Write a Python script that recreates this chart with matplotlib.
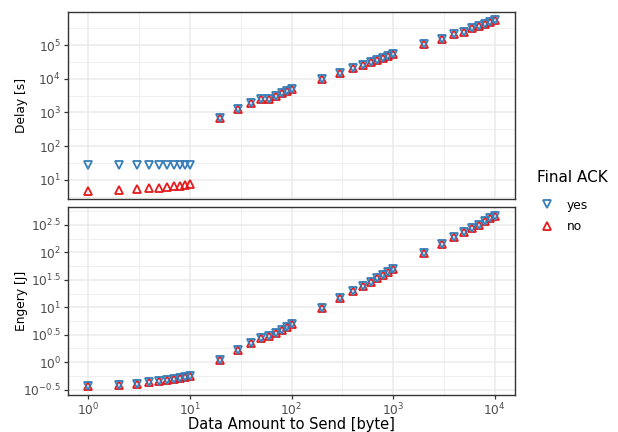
import numpy as np
import matplotlib
matplotlib.use("Agg")
import matplotlib.pyplot as plt
from matplotlib.lines import Line2D
from matplotlib.ticker import FixedLocator, FixedFormatter, NullFormatter

# ---------------- data ----------------
data_bytes = [1, 2, 3, 4, 5, 6, 7, 8, 9, 10,
              20, 30, 40, 50, 60, 70, 80, 90, 100,
              200, 300, 400, 500, 600, 700, 800, 900, 1000,
              2000, 3000, 4000, 5000, 6000, 7000, 8000, 9000, 10000]

delay_yes = [27, 27, 27, 27, 27, 27, 27, 27, 27, 27,
             665, 1310, 1880, 2510, 2560, 3160, 3790, 4440, 5100,
             10000, 15300, 20500, 25800, 30900, 37000, 42500, 48600, 54300,
             105000, 153000, 209000, 251000, 310000, 370000, 425000, 480000, 535000]

delay_no = [4.85, 5.1, 5.35, 5.6, 5.85, 6.1, 6.4, 6.7, 7.05, 7.45,
            665, 1310, 1880, 2510, 2560, 3160, 3790, 4440, 5100,
            10000, 15300, 20500, 25800, 30900, 37000, 42500, 48600, 54300,
            105000, 153000, 209000, 251000, 310000, 370000, 425000, 480000, 535000]

energy_yes = [0.361, 0.388, 0.405, 0.428, 0.447, 0.466, 0.486, 0.507, 0.536, 0.566,
              1.10, 1.65, 2.21, 2.74, 2.98, 3.43, 3.89, 4.35, 5.01,
              9.84, 14.6, 19.9, 24.2, 29.0, 33.9, 39.0, 43.6, 48.9,
              95.9, 142, 188, 232, 275, 321, 370, 420, 470]

energy_no = list(energy_yes)

legend_title = "Final ACK"
series_labels = ["yes", "no"]
x_label = "Data Amount to Send [byte]"
delay_label = "Delay [s]"
energy_label = "Engery [J]"

x_major_exp = [0, 1, 2, 3, 4]
delay_major_exp = [1, 2, 3, 4, 5]
energy_major_exp = [-0.5, 0, 0.5, 1, 1.5, 2, 2.5]

# ---------------- style ----------------
BLUE = "#377EB8"
RED = "#E41A1C"
GRID = "#EBEBEB"
BORDER = "#333333"
TICKTXT = "#4D4D4D"

plt.rcParams["font.family"] = ["DejaVu Sans"]
plt.rcParams["mathtext.fontset"] = "dejavusans"

fig = plt.figure(figsize=(6.18, 4.32), dpi=100)
W, H = 618, 432


def frac(l, t, r, b):
    return [l / W, 1 - b / H, (r - l) / W, (b - t) / H]


ax1 = fig.add_axes(frac(68, 12, 515, 199))
ax2 = fig.add_axes(frac(68, 207, 515, 395))


def explim(vals, f=0.05):
    lv = np.log10(np.asarray(vals, dtype=float))
    lo, hi = lv.min(), lv.max()
    d = (hi - lo) * f
    return 10 ** (lo - d), 10 ** (hi + d)


def fmt_exp(e):
    if float(e).is_integer():
        return r"$10^{%d}$" % int(e)
    return r"$10^{%g}$" % e


def style(ax, ymajor, show_x):
    ax.set_xscale("log")
    ax.set_yscale("log")
    ax.set_facecolor("white")
    for s in ax.spines.values():
        s.set_color(BORDER)
        s.set_linewidth(1.0)
    xmaj = [10.0 ** e for e in x_major_exp]
    xmin = [10.0 ** (e + 0.5) for e in x_major_exp[:-1]]
    ystep = ymajor[1] - ymajor[0]
    ymaj = [10.0 ** e for e in ymajor]
    ymin = [10.0 ** (e + ystep / 2) for e in [ymajor[0] - ystep] + list(ymajor)]
    ax.xaxis.set_major_locator(FixedLocator(xmaj))
    ax.xaxis.set_minor_locator(FixedLocator(xmin))
    ax.yaxis.set_major_locator(FixedLocator(ymaj))
    ax.yaxis.set_minor_locator(FixedLocator(ymin))
    ax.yaxis.set_major_formatter(FixedFormatter([fmt_exp(e) for e in ymajor]))
    ax.yaxis.set_minor_formatter(NullFormatter())
    ax.xaxis.set_minor_formatter(NullFormatter())
    if show_x:
        ax.xaxis.set_major_formatter(FixedFormatter([fmt_exp(e) for e in x_major_exp]))
    else:
        ax.xaxis.set_major_formatter(NullFormatter())
    ax.grid(True, which="major", color=GRID, linewidth=1.1, zorder=0)
    ax.grid(True, which="minor", color=GRID, linewidth=0.55, zorder=0)
    ax.set_axisbelow(True)
    ax.tick_params(axis="both", which="minor", length=0)
    ax.tick_params(axis="y", which="major", length=3, width=0.9, color=BORDER,
                   labelsize=8.8, labelcolor=TICKTXT, pad=2)
    if show_x:
        ax.tick_params(axis="x", which="major", length=3, width=0.9, color=BORDER,
                       labelsize=8.8, labelcolor=TICKTXT, pad=2)
    else:
        ax.tick_params(axis="x", which="major", length=0)
    ax.set_xlim(10 ** -0.2, 10 ** 4.2)


mk = dict(linestyle="none", markersize=6, markeredgewidth=1.3, markerfacecolor="none")

ax1.plot(data_bytes, delay_no, marker="^", markeredgecolor=RED, zorder=3, **mk)
ax1.plot(data_bytes, delay_yes, marker="v", markeredgecolor=BLUE, zorder=4, **mk)
ax2.plot(data_bytes, energy_no, marker="^", markeredgecolor=RED, zorder=3, **mk)
ax2.plot(data_bytes, energy_yes, marker="v", markeredgecolor=BLUE, zorder=4, **mk)

style(ax1, delay_major_exp, False)
style(ax2, energy_major_exp, True)
ax1.set_ylim(*explim(delay_yes + delay_no))
ax2.set_ylim(*explim(energy_yes + energy_no))

fig.text(22 / W, 1 - 105.5 / H, delay_label, fontsize=8.8, color="black",
         rotation=90, ha="center", va="center")
fig.text(22 / W, 1 - 301 / H, energy_label, fontsize=8.8, color="black",
         rotation=90, ha="center", va="center")

fig.text(291.5 / W, 1 - 429 / H, x_label, fontsize=10.5, color="black",
         ha="center", va="baseline")

fig.text(537 / W, 1 - 178 / H, legend_title, fontsize=11, color="black",
         ha="left", va="center")
handles = [Line2D([], [], marker="v", markeredgecolor=BLUE, **mk),
           Line2D([], [], marker="^", markeredgecolor=RED, **mk)]
leg = fig.legend(handles, series_labels, loc="center left",
                 bbox_to_anchor=(540 / W, 1 - 216 / H), frameon=False,
                 fontsize=8.8, handlelength=1.2, borderpad=0, borderaxespad=0,
                 handletextpad=1.0, labelspacing=0.72)

fig.savefig("out.png", dpi=100)
